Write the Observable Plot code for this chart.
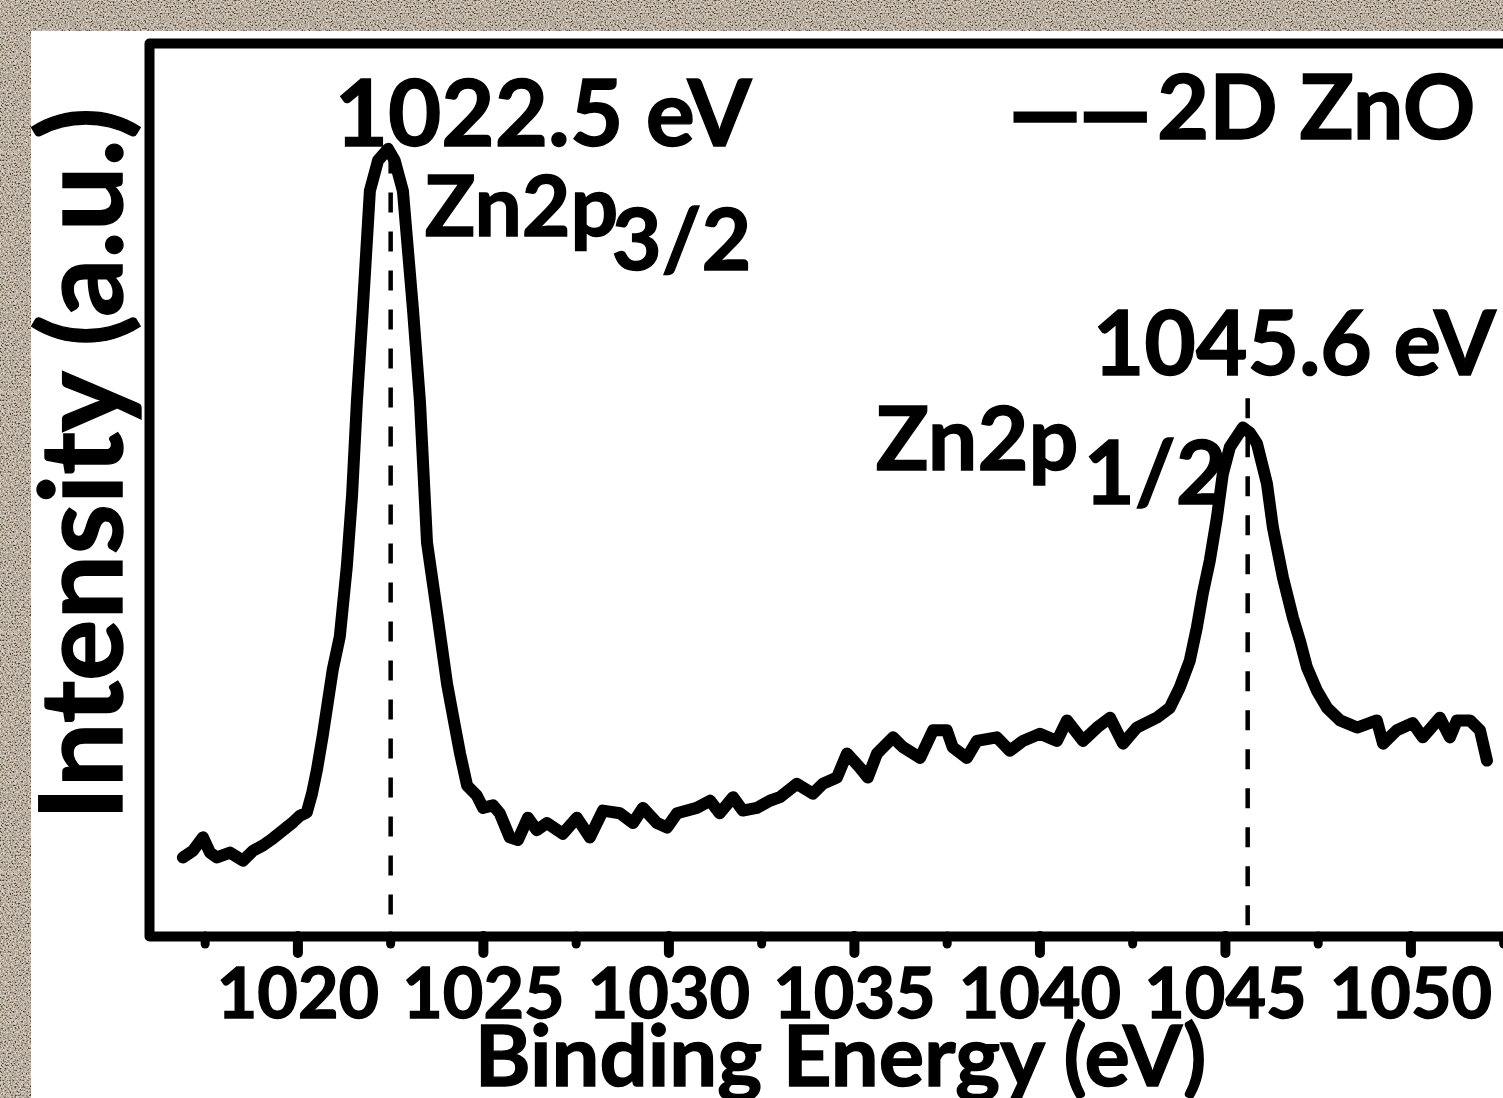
<!DOCTYPE html>
<html>
<head>
<meta charset="utf-8">
<script src="https://cdn.jsdelivr.net/npm/d3@7"></script>
<script src="https://cdn.jsdelivr.net/npm/@observablehq/plot@0.6"></script>
<style>
  html, body { margin: 0; padding: 0; width: 1503px; height: 1098px; overflow: hidden; }
  body {
    background-color: #a89b8d;
    background-image: url("data:image/svg+xml;utf8,<svg xmlns='http://www.w3.org/2000/svg' width='240' height='240'><filter id='n'><feTurbulence type='fractalNoise' baseFrequency='0.6' numOctaves='2' seed='7'/><feColorMatrix type='matrix' values='2.2 0 0 0 -0.55  2.2 0 0 0 -0.6  2.2 0 0 0 -0.66  0 0 0 0 0.6'/></filter><rect width='100%25' height='100%25' fill='%23a79a8b'/><rect width='100%25' height='100%25' filter='url(%23n)'/></svg>");
  }
  #wrap { position: absolute; left: 31px; top: 31px; width: 1472px; height: 1067px; overflow: hidden; background: white; }
  #wrap svg { max-width: none !important; display: block; }
  #wrap svg text { stroke: black; stroke-width: 1.4px; paint-order: stroke; }
</style>
</head>
<body>
<div id="wrap"></div>
<script>
// ---- data ----
const energy = [1016.90,1017.17,1017.44,1017.63,1017.82,1018.17,1018.52,1018.79,1019.06,1019.33,1019.60,1019.87,1020.05,1020.24,1020.38,1020.51,1020.67,1020.94,1021.13,1021.32,1021.46,1021.59,1021.75,1021.94,1022.16,1022.43,1022.61,1022.83,1023.10,1023.29,1023.48,1023.75,1024.02,1024.23,1024.37,1024.56,1024.82,1024.99,1025.26,1025.44,1025.71,1025.93,1026.20,1026.44,1026.71,1027.14,1027.52,1027.87,1028.22,1028.68,1029.03,1029.30,1029.68,1029.95,1030.22,1030.75,1031.11,1031.37,1031.73,1031.99,1032.37,1032.72,1032.99,1033.45,1033.88,1034.15,1034.53,1034.80,1035.15,1035.36,1035.61,1036.04,1036.31,1036.77,1037.12,1037.49,1037.65,1038.03,1038.30,1038.84,1039.19,1039.54,1040.00,1040.46,1040.73,1041.16,1041.54,1041.89,1042.24,1042.61,1043.15,1043.50,1043.77,1044.04,1044.23,1044.39,1044.58,1044.77,1044.93,1045.12,1045.47,1045.66,1045.85,1046.12,1046.28,1046.55,1046.82,1047.01,1047.20,1047.47,1047.74,1048.09,1048.55,1049.08,1049.25,1049.62,1050.05,1050.32,1050.78,1051.05,1051.24,1051.59,1051.86,1052.05];
const intensity = [8.85,9.6,11.1,9.4,8.85,9.4,8.5,9.6,10.2,11.0,11.9,12.8,13.5,13.9,16.0,18.6,22.5,29.9,33.6,41.5,49.4,59.9,70.3,83.5,86.9,88.2,86.9,83.5,70.3,59.9,44.1,36.3,28.3,23.6,20.5,16.9,15.8,14.4,14.7,13.8,11.1,10.8,13.3,11.9,12.7,11.5,13.3,11.1,14.1,13.8,12.7,14.4,12.7,12.2,13.8,14.4,15.2,13.8,15.6,14.1,14.4,15.2,15.6,17.1,16.0,17.1,17.8,20.5,18.9,17.8,20.5,22.3,21.2,20.0,23.1,23.1,21.2,20.0,21.9,22.3,20.8,21.9,22.7,21.9,24.2,21.9,23.4,24.5,21.6,23.4,24.5,25.6,27.9,30.9,34.6,38.4,42.1,46.9,51.8,54.8,57.0,56.4,55.2,50.7,45.8,40.2,35.7,33.1,30.1,27.5,25.6,24.2,23.4,24.2,21.6,23.1,23.9,22.3,24.5,22.3,24.2,24.2,23.1,19.7];
const seriesName = "2D ZnO";
const legendSwatch = "\u2014\u2014";

const peakEnergies = [1022.5, 1045.6];
const peakLabels = ["1022.5 eV", "1045.6 eV"];
const orbitalLabels = ["Zn2p", "Zn2p"];
const orbitalSubscripts = ["3/2", "1/2"];
const dashTop = [88, 61];
const dashBottom = [2.4, 1.2];

const majorTicks = [1020, 1025, 1030, 1035, 1040, 1045, 1050];
const minorTicks = [1017.5, 1022.5, 1027.5, 1032.5, 1037.5, 1042.5, 1047.5, 1052.5];

const xTitle = "Binding Energy (eV)";
const yTitle = "Intensity (a.u.)";

// ---- build tables ----
const spectrum = energy.map((e, i) => ({energy: e, intensity: intensity[i]}));
const peaks = peakEnergies.map((e, i) => ({
  energy: e,
  height: d3.max(spectrum.filter(d => Math.abs(d.energy - e) < 0.5), d => d.intensity),
  label: peakLabels[i],
  orbital: orbitalLabels[i],
  sub: orbitalSubscripts[i],
  top: dashTop[i],
  bottom: dashBottom[i]
}));

const bold = {fontWeight: "bold", fill: "black"};

const chart = Plot.plot({
  width: 1500,
  height: 1067,
  marginLeft: 118,
  marginRight: 0,
  marginTop: 12,
  marginBottom: 162,
  x: {domain: [1016, 1053.25]},
  y: {domain: [0, 100], axis: null},
  style: {fontFamily: "Lato, 'Open Sans', sans-serif", background: "white", color: "black"},
  marks: [
    Plot.axisX(minorTicks, {tickSize: 8, strokeWidth: 9, strokeLinecap: "round", tickFormat: () => "", label: null}),
    Plot.axisX(majorTicks, {tickSize: 17, tickPadding: 15, strokeWidth: 10, strokeLinecap: "round",
      fontSize: 70, fontWeight: "bold", tickFormat: d => String(d), label: null}),
    Plot.frame({stroke: "black", strokeWidth: 10, strokeLinejoin: "round"}),
    Plot.ruleX(peaks, {x: "energy", y1: "bottom", y2: "top", stroke: "black", strokeWidth: 4.5, strokeDasharray: "20,19"}),
    Plot.line(spectrum, {x: "energy", y: "intensity", stroke: "black", strokeWidth: 12, strokeLinejoin: "round", strokeLinecap: "round"}),
    // peak annotations
    Plot.text([peaks[0]], {x: "energy", y: "height", text: "label", dx: -56, dy: -3, textAnchor: "start", lineAnchor: "bottom", fontSize: 92, ...bold}),
    Plot.text([peaks[0]], {x: "energy", y: "height", text: "orbital", dx: 34, dy: 87, textAnchor: "start", lineAnchor: "bottom", fontSize: 84, ...bold}),
    Plot.text([peaks[0]], {x: "energy", y: "height", text: "sub", dx: 221, dy: 121, textAnchor: "start", lineAnchor: "bottom", fontSize: 86, ...bold}),
    Plot.text([peaks[1]], {x: "energy", y: "height", text: "label", dx: -155, dy: -52, textAnchor: "start", lineAnchor: "bottom", fontSize: 89, ...bold}),
    Plot.text([peaks[1]], {x: "energy", y: "height", text: "orbital", dx: -372, dy: 43, textAnchor: "start", lineAnchor: "bottom", fontSize: 88, ...bold}),
    Plot.text([peaks[1]], {x: "energy", y: "height", text: "sub", dx: -164, dy: 77, textAnchor: "start", lineAnchor: "bottom", fontSize: 88, ...bold}),
    // legend
    Plot.text([legendSwatch], {frameAnchor: "top-right", dx: -381, dy: 100, textAnchor: "end", lineAnchor: "bottom", fontSize: 88, ...bold}),
    Plot.text([seriesName], {frameAnchor: "top-right", dx: -56, dy: 95, textAnchor: "end", lineAnchor: "bottom", fontSize: 90, ...bold}),
    // axis titles
    Plot.text([xTitle], {frameAnchor: "bottom", dy: 149, lineAnchor: "bottom", fontSize: 85, ...bold}),
    Plot.text([yTitle], {frameAnchor: "left", rotate: -90, dx: -28, dy: -26, lineAnchor: "bottom", textAnchor: "middle", fontSize: 115, ...bold})
  ]
});
// thicken the legend swatch line to match the reference stroke
d3.select(chart).selectAll("text").filter(function() { return this.textContent === legendSwatch; })
  .style("stroke-width", "3.5px");
document.getElementById("wrap").appendChild(chart);
</script>
</body>
</html>
